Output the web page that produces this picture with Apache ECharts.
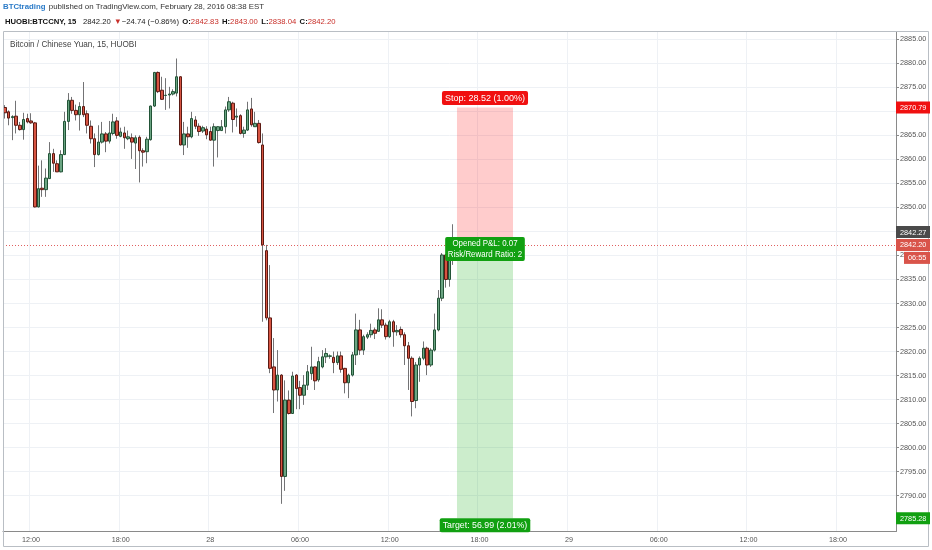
<!DOCTYPE html>
<html><head><meta charset="utf-8">
<script src="https://cdn.jsdelivr.net/npm/echarts@6/dist/echarts.min.js"></script>
<style>html,body{margin:0;padding:0;background:#fff}#chart{width:932px;height:550px}</style>
</head><body><div id="chart"></div>
<script>
// ---- axis definition ----
const barStart = [2016, 1, 27, 10, 15]; // first 15-min bar (27 Feb 2016 10:15)
const barMinutes = 15;
const slotCount = 239;                    // visible time slots on the axis
const priceTicks = [2790, 2795, 2800, 2805, 2810, 2815, 2820, 2825, 2830, 2835, 2840, 2845, 2850, 2855, 2860, 2865, 2870, 2875, 2880, 2885];
const priceMin = 2782.54, priceMax = 2886.62;

// ---- OHLC values (15 min bars) ----
const openP = [2870.8,2869.9,2868.7,2869.0,2867.1,2866.2,2868.5,2868.0,2867.6,2850.1,
2854.0,2853.7,2856.0,2861.2,2859.1,2857.4,2861.0,2867.9,2872.3,2870.2,
2869.3,2871.0,2869.5,2866.9,2864.3,2861.0,2863.6,2865.3,2863.8,2865.4,
2868.0,2864.8,2865.5,2864.3,2864.5,2863.4,2864.6,2861.8,2861.6,2864.1,
2871.1,2878.1,2874.4,2873.3,2873.4,2873.6,2873.8,2877.2,2863.0,2865.3,
2864.7,2868.2,2866.9,2865.9,2866.3,2865.8,2864.0,2866.0,2866.0,2866.8,
2870.3,2871.7,2868.8,2869.1,2865.4,2866.1,2870.5,2866.8,2867.5,2863.0,
2841.0,2827.0,2816.8,2812.0,2815.1,2794.0,2809.9,2807.1,2815.1,2812.5,
2810.9,2813.0,2815.4,2816.8,2814.1,2816.8,2818.9,2819.0,2818.8,2817.7,
2819.1,2816.5,2813.5,2815.1,2819.3,2824.5,2820.3,2823.0,2823.5,2824.5,
2824.2,2826.6,2825.5,2823.1,2826.2,2824.1,2824.6,2823.5,2821.2,2818.6,
2809.8,2817.2,2818.6,2820.7,2817.2,2820.3,2824.5,2831.1,2840.1,2835.0,
2842.83];
const highP = [2871.3,2870.2,2869.2,2872.2,2867.8,2869.7,2869.5,2869.6,2867.8,2858.7,
2859.8,2858.1,2863.6,2862.2,2859.8,2861.9,2869.9,2873.8,2873.0,2871.4,
2871.9,2876.1,2870.2,2868.1,2865.4,2867.1,2867.8,2865.7,2868.0,2869.5,
2868.8,2866.6,2866.8,2866.0,2865.4,2865.0,2865.0,2862.3,2864.7,2871.2,
2878.2,2878.3,2877.2,2876.9,2875.1,2874.6,2881.0,2877.3,2867.8,2866.8,
2869.9,2869.0,2867.5,2867.0,2866.9,2866.8,2867.5,2866.9,2868.2,2871.0,
2873.0,2872.0,2870.6,2869.4,2866.8,2872.0,2872.8,2869.9,2868.2,2865.4,
2842.2,2838.0,2822.8,2820.3,2815.3,2814.0,2811.9,2815.8,2815.3,2813.9,
2815.1,2817.2,2821.0,2816.9,2818.9,2820.3,2820.7,2819.4,2820.0,2820.0,
2820.0,2816.6,2815.4,2819.9,2827.9,2826.6,2823.5,2824.0,2825.8,2825.0,
2829.0,2828.8,2826.0,2826.6,2826.6,2825.5,2825.2,2824.0,2822.0,2819.0,
2817.8,2819.0,2822.1,2821.0,2820.7,2827.9,2832.8,2840.5,2840.3,2840.5,
2846.5];
const lowP = [2868.5,2867.1,2864.0,2865.4,2866.0,2864.1,2867.5,2867.4,2850.0,2850.0,
2852.2,2852.2,2855.9,2857.4,2857.4,2857.3,2860.9,2866.1,2869.5,2868.1,
2866.0,2868.8,2865.4,2863.3,2858.4,2860.8,2863.3,2861.5,2863.3,2865.0,
2864.3,2864.6,2862.2,2864.0,2860.1,2858.0,2855.2,2858.5,2859.2,2863.9,
2870.9,2873.8,2872.4,2870.3,2870.6,2873.3,2873.1,2862.9,2860.9,2862.4,
2864.4,2866.3,2864.9,2865.5,2864.2,2863.9,2858.5,2860.4,2865.9,2865.4,
2869.9,2865.6,2866.8,2865.2,2864.5,2865.9,2866.8,2866.8,2863.3,2826.2,
2826.5,2815.5,2807.2,2809.6,2788.3,2791.0,2806.9,2807.0,2808.0,2808.0,
2808.9,2812.0,2814.1,2812.0,2813.7,2816.5,2817.6,2818.5,2815.5,2817.2,
2815.6,2811.3,2810.3,2814.8,2817.2,2819.3,2819.3,2822.6,2822.9,2822.6,
2824.1,2824.9,2822.5,2822.8,2821.0,2823.3,2822.9,2817.2,2812.0,2806.5,
2808.2,2813.7,2818.2,2815.1,2816.8,2820.0,2824.2,2830.5,2833.3,2833.5,
2838.04];
const closeP = [2869.7,2868.6,2868.9,2867.1,2866.2,2868.3,2867.8,2867.6,2850.1,2853.9,
2853.7,2856.1,2861.2,2859.2,2857.4,2861.0,2867.9,2872.3,2870.2,2869.3,
2871.0,2869.3,2867.1,2864.3,2861.0,2863.6,2865.3,2863.8,2865.5,2867.8,
2865.0,2865.7,2864.5,2864.7,2863.6,2864.5,2861.8,2861.5,2864.2,2871.1,
2878.1,2874.1,2872.5,2873.35,2873.6,2874.1,2877.2,2863.0,2865.3,2864.7,
2868.5,2866.9,2865.8,2866.6,2865.1,2864.0,2866.8,2866.8,2866.8,2870.3,
2872.0,2868.3,2869.0,2865.4,2866.1,2870.3,2867.2,2867.5,2863.5,2842.2,
2827.0,2816.5,2812.0,2815.1,2794.0,2809.9,2807.1,2814.9,2812.3,2810.9,
2813.0,2815.8,2816.8,2813.9,2817.9,2818.9,2819.6,2819.1,2817.7,2819.1,
2816.3,2813.5,2815.1,2819.3,2824.5,2820.3,2823.1,2823.5,2824.4,2823.8,
2826.6,2825.5,2823.1,2826.2,2824.1,2824.4,2823.5,2821.2,2818.6,2809.6,
2817.2,2818.6,2820.7,2817.2,2820.3,2824.5,2831.1,2840.1,2835.0,2840.1,
2842.20];

// ---- position tool (short) ----
const entryPrice = 2842.27, stopPrice = 2870.79, targetPrice = 2785.28, lastPrice = 2842.20;
const positionFrom = '2016-02-28 16:30', positionTo = '2016-02-28 20:15';
const stopText = 'Stop: 28.52 (1.00%)';
const targetText = 'Target: 56.99 (2.01%)';
const pnlText = 'Opened P&L: 0.07\nRisk/Reward Ratio: 2';
const countdownText = '06:55';

// ---- build categories ----
const pad = n => (n < 10 ? '0' : '') + n;
const categories = [];
{
  const d = new Date(barStart[0], barStart[1], barStart[2], barStart[3], barStart[4]);
  for (let i = 0; i < slotCount; i++) {
    categories.push(d.getFullYear() + '-' + pad(d.getMonth() + 1) + '-' + pad(d.getDate()) + ' ' + pad(d.getHours()) + ':' + pad(d.getMinutes()));
    d.setMinutes(d.getMinutes() + barMinutes);
  }
}
const isMajor = v => { const hh = +v.slice(11, 13), mm = +v.slice(14, 16); return mm === 0 && hh % 6 === 0; };
const fmtTime = v => { const hh = +v.slice(11, 13); return hh === 0 ? String(+v.slice(8, 10)) : v.slice(11, 16); };

const wickData = openP.map((o, i) => [o, closeP[i], lowP[i], highP[i]]);
const bodyData = openP.map((o, i) => [o, closeP[i], Math.min(o, closeP[i]), Math.max(o, closeP[i])]);

const FONT = "'Liberation Sans', Arial, sans-serif";
const gridColor = '#eef1f5';

const option = {
  animation: false,
  backgroundColor: '#ffffff',
  textStyle: { fontFamily: FONT },
  grid: { left: 3, right: 36, top: 31.5, bottom: 18.5, outerBoundsMode: 'none', containLabel: false },
  xAxis: {
    type: 'category', data: categories, boundaryGap: true,
    axisLine: { lineStyle: { color: '#8a8a8a', width: 1 } },
    axisTick: { interval: (i, v) => isMajor(v), alignWithLabel: true, length: 3, lineStyle: { color: '#8a8a8a' } },
    axisLabel: { interval: (i, v) => isMajor(v), formatter: fmtTime, fontSize: 7.2, color: '#555', margin: 5, fontFamily: FONT, hideOverlap: false },
    splitLine: { show: true, interval: (i, v) => isMajor(v), lineStyle: { color: gridColor, width: 1 } }
  },
  yAxis: {
    type: 'value', position: 'right', min: priceMin, max: priceMax,
    axisLine: { show: true, lineStyle: { color: '#8a8a8a' } },
    axisTick: { show: true, length: 3, inside: false, customValues: priceTicks, lineStyle: { color: '#8a8a8a' } },
    axisLabel: { customValues: priceTicks, formatter: v => v.toFixed(2), fontSize: 7.3, color: '#555', margin: 4, fontFamily: FONT },
    splitLine: { show: true, lineStyle: { color: gridColor, width: 1 } }
  },
  series: [
    {
      name: 'wick', type: 'candlestick', data: wickData, barWidth: 1,
      itemStyle: { color: '#737375', color0: '#737375', borderColor: '#737375', borderColor0: '#737375', borderWidth: 1 },
      markArea: {
        silent: true,
        data: [
          [{ xAxis: positionFrom, yAxis: entryPrice, itemStyle: { color: 'rgba(255,0,0,0.2)' } }, { xAxis: positionTo, yAxis: stopPrice }],
          [{ xAxis: positionFrom, yAxis: entryPrice, itemStyle: { color: 'rgba(0,165,0,0.2)' } }, { xAxis: positionTo, yAxis: targetPrice }]
        ]
      }
    },
    {
      name: 'body', type: 'candlestick', data: bodyData, barWidth: 3,
      itemStyle: { color: '#6ba583', color0: '#d75442', borderColor: '#225437', borderColor0: '#5b1a13', borderWidth: 1 },
      markLine: {
        silent: true, symbol: 'none', label: { show: false },
        lineStyle: { type: [1, 2], color: '#e06060', width: 1 },
        data: [{ yAxis: lastPrice }]
      }
    }
  ]
};

const chart = echarts.init(document.getElementById('chart'));
chart.setOption(option);

const yPx = v => chart.convertToPixel({ yAxisIndex: 0 }, v);
const xPx = c => chart.convertToPixel({ xAxisIndex: 0 }, c);
const zoneMid = (xPx(positionFrom) + xPx(positionTo)) / 2;

function axisTag(y, text, bg, x) {
  const left = x || 896;
  return [
    { type: 'rect', shape: { x: left, y: y - 6, width: 930 - left, height: 12 }, style: { fill: bg }, z: 100 },
    { type: 'text', x: left + 4, y: y + 0.5, style: { text: text, fill: '#fff', font: '7.3px ' + FONT, verticalAlign: 'middle', align: 'left' }, z: 101 }
  ];
}
function boxLabel(cx, cy, text, bg, size, lh, sx) {
  return { type: 'text', x: cx, y: cy, z: 102, scaleX: sx || 1,
    style: { text: text, fill: '#fff', font: size + 'px ' + FONT, align: 'center', verticalAlign: 'middle',
      backgroundColor: bg, padding: [2, 3, 1, 3], borderRadius: 2, lineHeight: lh } };
}

const graphics = [
  // frame
  { type: 'rect', shape: { x: 3.5, y: 31.5, width: 925, height: 515 }, style: { fill: 'none', stroke: '#b9bec4', lineWidth: 1 }, z: 90 },
  // header
  { type: 'text', x: 3, y: 7, z: 100, style: { text: '{a|BTCtrading} {b|published on TradingView.com, February 28, 2016 08:38 EST}', verticalAlign: 'middle',
      rich: { a: { fill: '#2b7bc8', font: 'bold 7.8px ' + FONT }, b: { fill: '#333', font: '7.9px ' + FONT } } } },
  { type: 'text', x: 5, y: 21.5, z: 100, style: { text: '{k|HUOBI:BTCCNY, 15}  {n|2842.20} {r|▼}{n|−24.74 (−0.86%)} {k|O:}{r|2842.83} {k|H:}{r|2843.00} {k|L:}{r|2838.04} {k|C:}{r|2842.20}', verticalAlign: 'middle',
      rich: { k: { fill: '#111', font: 'bold 7.7px ' + FONT }, n: { fill: '#222', font: '7.7px ' + FONT }, r: { fill: '#c8302a', font: '7.7px ' + FONT } } } },
  { type: 'text', x: 10, y: 44.5, z: 100, style: { text: 'Bitcoin / Chinese Yuan, 15, HUOBI', fill: '#444', font: '8.2px ' + FONT, verticalAlign: 'middle' } },
  // position tool labels
  boxLabel(zoneMid, yPx(stopPrice) - 9.5, stopText, '#f01010', 9, 11),
  boxLabel(zoneMid, yPx(entryPrice) + 4.5, pnlText, '#11a011', 9, 10.5, 0.88),
  boxLabel(zoneMid, yPx(targetPrice) + 7, targetText, '#11a011', 8.8, 11),
  // price axis tags
  ...axisTag(yPx(stopPrice), stopPrice.toFixed(2), '#f01010'),
  ...axisTag(yPx(entryPrice) - 12.5, entryPrice.toFixed(2), '#4a4a4a'),
  ...axisTag(yPx(lastPrice), lastPrice.toFixed(2), '#d9544a'),
  ...axisTag(yPx(lastPrice) + 13, countdownText, '#d9544a', 904),
  ...axisTag(yPx(targetPrice), targetPrice.toFixed(2), '#11a011')
];
chart.setOption({ graphic: graphics });
</script></body></html>
